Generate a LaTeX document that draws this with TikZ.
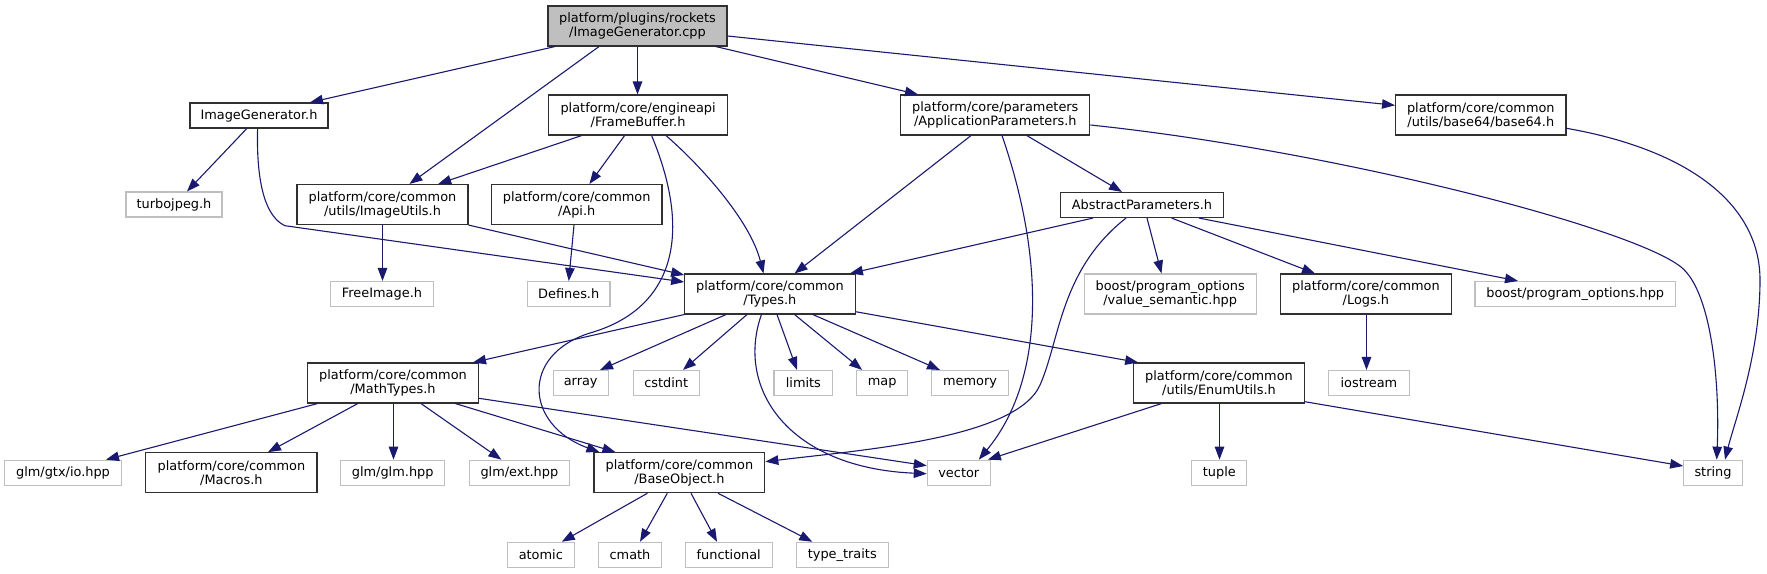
\documentclass[tikz,border=0pt]{standalone}
\usepackage{fontspec}
\setmainfont{DejaVu Sans}
\usetikzlibrary{arrows.meta}
\definecolor{edgeblue}{HTML}{191970}
\definecolor{rootfill}{HTML}{BFBFBF}
\definecolor{greyborder}{HTML}{BFBFBF}
\definecolor{darkborder}{HTML}{303030}
\begin{document}
\begin{tikzpicture}[x=1pt,y=-1pt,
 box/.style={draw=darkborder, line width=1.1pt, fill=white, inner sep=0pt, align=center, font=\fontsize{12.9}{14}\selectfont, text=black},
 gbox/.style={box, draw=greyborder},
 rootbox/.style={box, fill=rootfill, draw=darkborder},
 edge/.style={draw=edgeblue, line width=1.1pt, -{Triangle[length=13pt,width=9.5pt]}},
]
\useasboundingbox[fill=white] (0,0) rectangle (1767,573);
% row 1
\node[rootbox, minimum width=179pt, minimum height=40pt] (root) at (637.5,26) {platform/plugins/rockets\\/ImageGenerator.cpp};
% row 2
\node[box, minimum width=138pt, minimum height=25pt] (ig) at (259,115.5) {ImageGenerator.h};
\node[box, minimum width=178.6pt, minimum height=40pt] (fb) at (638.1,115) {platform/core/engineapi\\/FrameBuffer.h};
\node[box, minimum width=189.1pt, minimum height=40pt] (ap) at (995.3,115) {platform/core/parameters\\/ApplicationParameters.h};
\node[box, minimum width=170.4pt, minimum height=40pt] (b64) at (1480.8,115) {platform/core/common\\/utils/base64/base64.h};
% row 3
\node[gbox, minimum width=96pt, minimum height=25pt] (turbo) at (174,204.5) {turbojpeg.h};
\node[box, minimum width=171pt, minimum height=40pt] (iu) at (382.5,204.5) {platform/core/common\\/utils/ImageUtils.h};
\node[box, minimum width=170.6pt, minimum height=40pt] (api) at (576.7,204.5) {platform/core/common\\/Api.h};
\node[box, minimum width=162.4pt, minimum height=25pt] (absp) at (1142,205) {AbstractParameters.h};
% row 4
\node[gbox, minimum width=102.6pt, minimum height=25pt] (freeimg) at (382,294) {FreeImage.h};
\node[gbox, minimum width=82.6pt, minimum height=25pt] (defines) at (568.7,294) {Defines.h};
\node[box, minimum width=170.4pt, minimum height=40pt] (types) at (769.9,294) {platform/core/common\\/Types.h};
\node[gbox, minimum width=172.3pt, minimum height=40pt] (valsem) at (1170.2,294) {boost/program\_options\\/value\_semantic.hpp};
\node[box, minimum width=170.3pt, minimum height=40pt] (logs) at (1365.9,294) {platform/core/common\\/Logs.h};
\node[gbox, minimum width=200.4pt, minimum height=25pt] (bpo) at (1575.2,294) {boost/program\_options.hpp};
% row 5
\node[box, minimum width=170.7pt, minimum height=40pt] (mt) at (393,383) {platform/core/common\\/MathTypes.h};
\node[gbox, minimum width=54.7pt, minimum height=25pt] (array) at (580.7,383) {array};
\node[gbox, minimum width=66.3pt, minimum height=25pt] (cstdint) at (666.2,383) {cstdint};
\node[gbox, minimum width=58.9pt, minimum height=25pt] (limits) at (803.4,383) {limits};
\node[gbox, minimum width=50.6pt, minimum height=25pt] (map) at (882.1,383) {map};
\node[gbox, minimum width=77.1pt, minimum height=25pt] (memory) at (970,383) {memory};
\node[box, minimum width=170.6pt, minimum height=40pt] (eu) at (1219,383) {platform/core/common\\/utils/EnumUtils.h};
\node[gbox, minimum width=80.3pt, minimum height=25pt] (iostream) at (1368.9,383) {iostream};
% row 6
\node[gbox, minimum width=116.7pt, minimum height=25pt] (gtxio) at (63,472.7) {glm/gtx/io.hpp};
\node[box, minimum width=171.1pt, minimum height=40pt] (macros) at (231.4,472.7) {platform/core/common\\/Macros.h};
\node[gbox, minimum width=104.1pt, minimum height=25pt] (glmhpp) at (392.7,472.7) {glm/glm.hpp};
\node[gbox, minimum width=100.3pt, minimum height=25pt] (ext) at (519.4,472.7) {glm/ext.hpp};
\node[box, minimum width=170.8pt, minimum height=40pt] (bo) at (679.4,472.7) {platform/core/common\\/BaseObject.h};
\node[gbox, minimum width=63pt, minimum height=25pt] (vector) at (958.8,472.7) {vector};
\node[gbox, minimum width=55.1pt, minimum height=25pt] (tuple) at (1219.3,472.7) {tuple};
\node[gbox, minimum width=58.6pt, minimum height=25pt] (string) at (1713,472.7) {string};
% row 7
\node[gbox, minimum width=66.5pt, minimum height=25pt] (atomic) at (540.8,554.8) {atomic};
\node[gbox, minimum width=62.2pt, minimum height=25pt] (cmath) at (630,554.8) {cmath};
\node[gbox, minimum width=87pt, minimum height=25pt] (functional) at (728.7,554.8) {functional};
\node[gbox, minimum width=92pt, minimum height=25pt] (typetraits) at (842.3,554.8) {type\_traits};
% edges from root
\draw[edge] ([xshift=-82.5pt]root.south) -- ([xshift=51pt]ig.north);
\draw[edge] ([xshift=-38.5pt]root.south) -- ([xshift=27pt]iu.north);
\draw[edge] (root.south) -- (root.south |- fb.north);
\draw[edge] ([xshift=78.3pt]root.south) -- ([xshift=-77.3pt]ap.north);
\draw[edge] ([yshift=-10pt]root.east) -- ([yshift=9.7pt]b64.west);
% ImageGenerator.h
\draw[edge] ([xshift=-12.2pt]ig.south) -- ([xshift=13pt]turbo.north);
\draw[edge] ([xshift=-1.4pt]ig.south) .. controls (256,190) and (268,218) .. (285,225.7) -- ([yshift=12pt]types.west);
% FrameBuffer
\draw[edge] ([xshift=-56.4pt]fb.south) -- ([xshift=55.7pt]iu.north);
\draw[edge] ([xshift=-13.5pt]fb.south) -- ([xshift=12.7pt]api.north);
\draw[edge] ([xshift=13.5pt]fb.south) .. controls (695,240) and (670,310) .. (590,333) .. controls (520,355) and (525,425) .. ([xshift=6pt]bo.north west);
\draw[edge] ([xshift=27.9pt]fb.south) .. controls (700,165) and (750,220) .. ([xshift=-6.4pt]types.north);
% Api, ImageUtils
\draw[edge] ([xshift=-2.7pt]api.south) -- (defines.north);
\draw[edge] (iu.south) -- (iu.south |- freeimg.north);
\draw[edge] (iu.south east) -- ([yshift=19pt]types.west);
% ApplicationParameters
\draw[edge] ([xshift=-24.3pt]ap.south) -- ([xshift=24.7pt]types.north);
\draw[edge] ([xshift=6.7pt]ap.south) .. controls (1045,260) and (1045,380) .. ([xshift=20pt]vector.north);
\draw[edge] ([xshift=31.5pt]ap.south) -- ([xshift=-20pt]absp.north);
\draw[edge] ([yshift=-10pt]ap.east) .. controls (1330,150) and (1631,227) .. (1681,267) .. controls (1711,291) and (1720,380) .. ([xshift=3.7pt]string.north);
% base64
\draw[edge] ([yshift=-13.3pt]b64.east) .. controls (1690,150) and (1760,205) .. (1760,280) .. controls (1760,355) and (1735,420) .. ([xshift=12pt]string.north);
% AbstractParameters
\draw[edge] ([xshift=-49pt]absp.south) -- ([xshift=80pt]types.north);
\draw[edge] ([xshift=-16pt]absp.south) .. controls (1060,270) and (1060,340) .. (1040,385) .. controls (1016,439) and (860,450) .. ([yshift=11pt]bo.east);
\draw[edge] ([xshift=5pt]absp.south) -- ([xshift=-8.7pt]valsem.north);
\draw[edge] ([xshift=29.6pt]absp.south) -- ([xshift=-50.9pt]logs.north);
\draw[edge] ([xshift=57pt]absp.south) -- ([xshift=-57.2pt]bpo.north);
% Logs
\draw[edge] ([xshift=0.6pt]logs.south) -- ([xshift=0.6pt]logs.south |- iostream.north);
% Types
\draw[edge] (types.south west) -- ([xshift=80pt]mt.north);
\draw[edge] ([xshift=-43.9pt]types.south) -- ([xshift=19.3pt]array.north);
\draw[edge] ([xshift=-22.9pt]types.south) -- ([xshift=16.8pt]cstdint.north);
\draw[edge] ([xshift=-8.5pt]types.south) .. controls (735,390) and (790,468) .. ([yshift=-1pt]vector.west);
\draw[edge] ([xshift=7.1pt]types.south) -- ([xshift=-6.4pt]limits.north);
\draw[edge] ([xshift=24.7pt]types.south) -- ([xshift=-20pt]map.north);
\draw[edge] ([xshift=43pt]types.south) -- ([xshift=-30pt]memory.north);
\draw[edge] ([yshift=-17.7pt]types.east) -- ([xshift=5pt]eu.north west);
% MathTypes
\draw[edge] ([xshift=-75.4pt]mt.south) -- ([xshift=43pt]gtxio.north);
\draw[edge] ([xshift=-35.2pt]mt.south) -- ([xshift=36.6pt]macros.north);
\draw[edge] ([xshift=0.5pt]mt.south) -- ([xshift=0.5pt]mt.south |- glmhpp.north);
\draw[edge] ([xshift=28pt]mt.south) -- ([xshift=-18pt]ext.north);
\draw[edge] ([xshift=62.4pt]mt.south) -- ([xshift=22pt]bo.north west);
\draw[edge] ([yshift=-15.3pt]mt.east) -- ([yshift=7pt]vector.west);
% EnumUtils
\draw[edge] ([xshift=-57.5pt]eu.south) -- ([xshift=-3pt]vector.north east);
\draw[edge] ([xshift=0.5pt]eu.south) -- ([xshift=0.5pt]eu.south |- tuple.north);
\draw[edge] ([yshift=-18.7pt]eu.east) -- ([yshift=6.7pt]string.west);
% BaseObject
\draw[edge] ([xshift=-32pt]bo.south) -- ([xshift=21pt]atomic.north);
\draw[edge] ([xshift=-12.1pt]bo.south) -- ([xshift=10pt]cmath.north);
\draw[edge] ([xshift=11.6pt]bo.south) -- ([xshift=-11.7pt]functional.north);
\draw[edge] ([xshift=38.6pt]bo.south) -- ([xshift=-30pt]typetraits.north);
\end{tikzpicture}
\end{document}
